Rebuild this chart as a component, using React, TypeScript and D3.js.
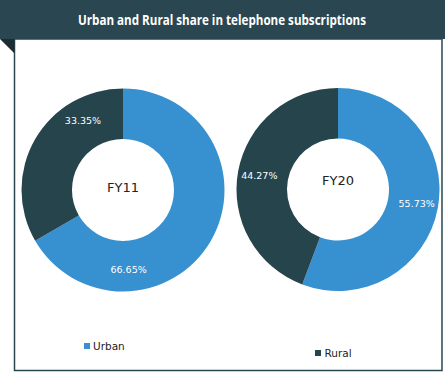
import React from "react";
import * as d3 from "d3";

const title = "Urban and Rural share in telephone subscriptions";
const categories = ["Urban", "Rural"];
const years = ["FY11", "FY20"];
const fy11Values = [66.65, 33.35];
const fy20Values = [55.73, 44.27];
const seriesValues = [fy11Values, fy20Values];

const colors = ["#3790d0", "#26444c"];
const headerColor = "#2a4751";

// layout constants
const W = 445;
const H = 372;
const centers = [
  { x: 123, y: 190, textDy: -3 },
  { x: 338, y: 189.5, textDy: -9.5 },
];
const outerR = 101.5;
const innerR = 51;
const labelR = 80;
// per-chart angle shift for data labels (degrees), per slice
const labelShift = [
  [56, 30],
  [0, 0],
];

export default function App() {
  const pie = d3
    .pie<number>()
    .value((d) => d)
    .sort(null)
    .startAngle(0)
    .endAngle(2 * Math.PI);
  const arc = d3.arc<d3.PieArcDatum<number>>().innerRadius(innerR).outerRadius(outerR);
  const fmt = (v: number) => v.toFixed(2) + "%";

  return (
    <svg
      width={W}
      height={H}
      style={{ position: "absolute", left: 0, top: 0, display: "block" }}
      fontFamily="'DejaVu Sans', Verdana, sans-serif"
    >
      <rect x={0} y={0} width={W} height={H} fill="#ffffff" />
      <rect x={14.5} y={39} width={427.5} height={331.5} fill="#fff" stroke={headerColor} strokeWidth={1.5} />
      <rect x={0} y={0} width={W} height={39} fill={headerColor} />
      <polygon points="0,39 14.5,39 14.5,53.5" fill="#1b2d33" />
      <text
        x={222}
        y={25}
        textAnchor="middle"
        fill="#fff"
        fontFamily="'Open Sans', sans-serif"
        fontWeight="bold"
        fontSize={13.5}
        textLength={288}
        lengthAdjust="spacingAndGlyphs"
      >
        {title}
      </text>
      {seriesValues.map((vals, i) => {
        const c = centers[i];
        const arcs = pie(vals);
        return (
          <g key={years[i]} transform={`translate(${c.x},${c.y})`}>
            {arcs.map((a, j) => (
              <path key={j} d={arc(a) || ""} fill={colors[j]} />
            ))}
            {arcs.map((a, j) => {
              const mid = (a.startAngle + a.endAngle) / 2 + (labelShift[i][j] * Math.PI) / 180;
              const lx = Math.sin(mid) * labelR;
              const ly = -Math.cos(mid) * labelR;
              return (
                <text
                  key={"l" + j}
                  x={lx}
                  y={ly}
                  dy="0.35em"
                  textAnchor="middle"
                  fill="#fff"
                  fontSize={9.5}
                >
                  {fmt(vals[j])}
                </text>
              );
            })}
            <text x={0} y={c.textDy} dy="0.35em" textAnchor="middle" fill="#222" fontSize={13}>
              {years[i]}
            </text>
          </g>
        );
      })}
      <g>
        <rect x={84} y={343} width={6} height={6} fill={colors[0]} />
        <text x={93} y={349.5} fontSize={10.5} fill="#222">
          {categories[0]}
        </text>
        <rect x={315} y={350} width={6} height={6} fill={colors[1]} />
        <text x={324.5} y={357} fontSize={10.5} fill="#222">
          {categories[1]}
        </text>
      </g>
    </svg>
  );
}
